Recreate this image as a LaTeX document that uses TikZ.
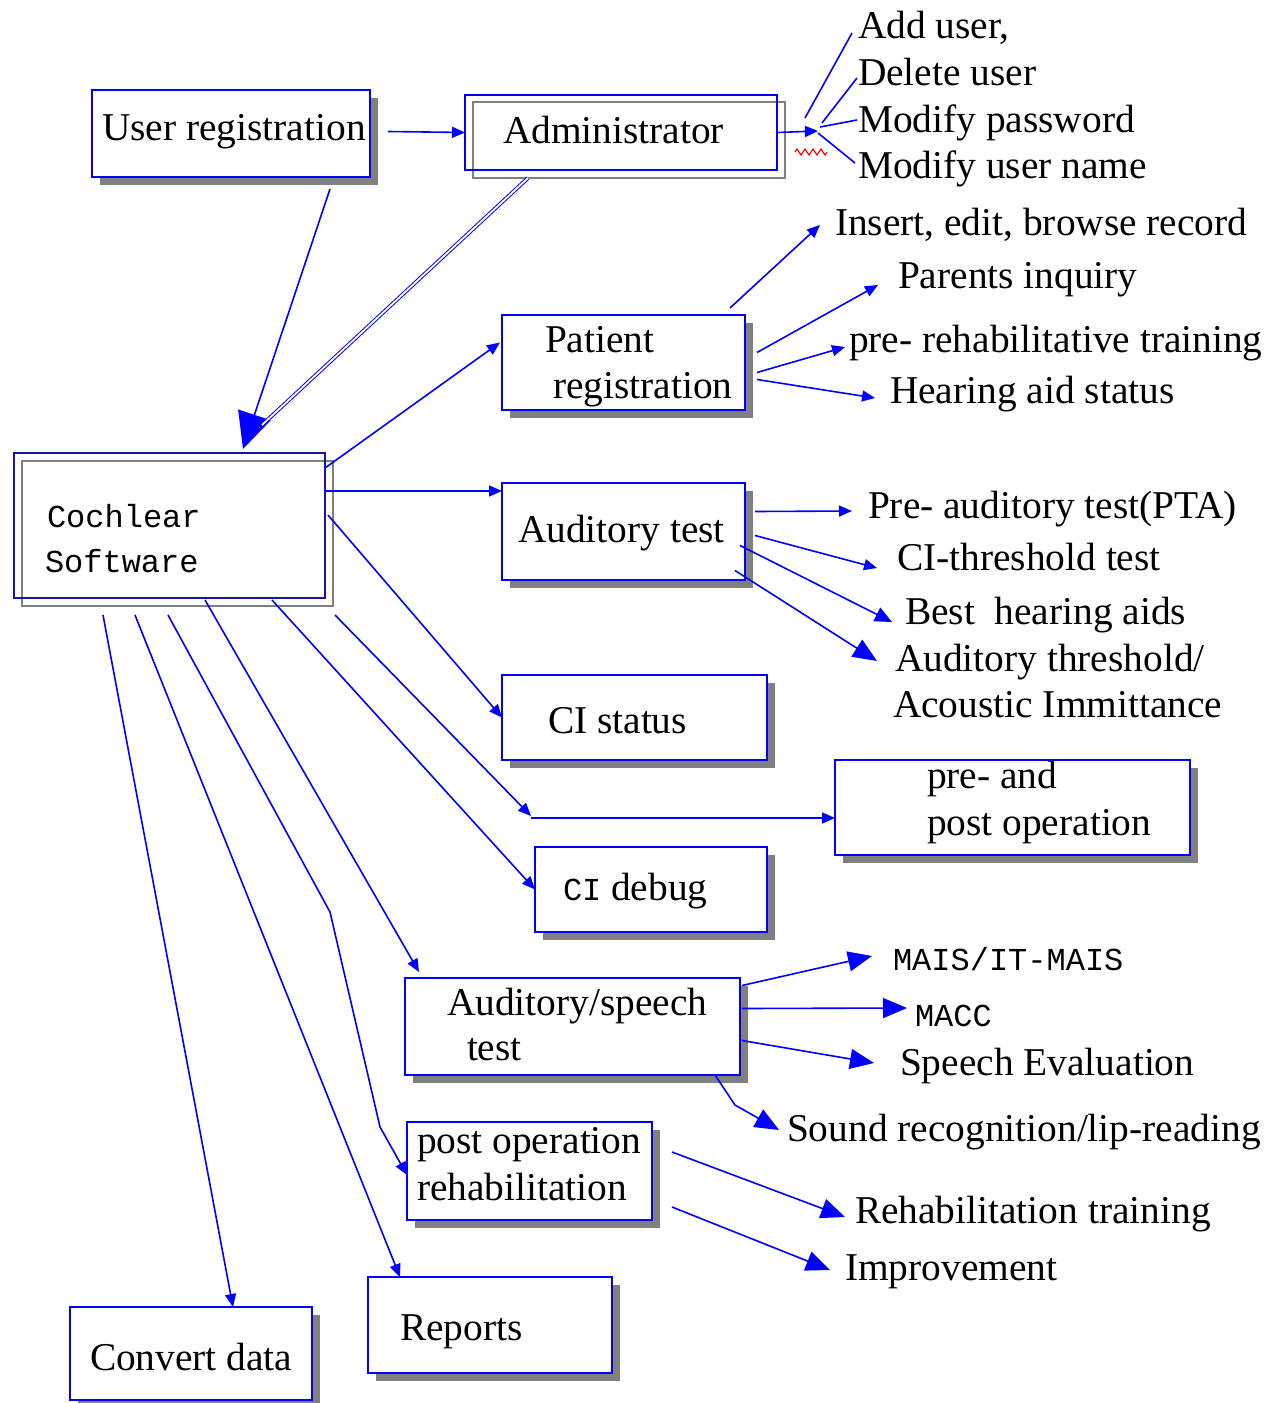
\documentclass[tikz,border=0pt]{standalone}
\usepackage{fontspec}
\setmainfont{Liberation Serif}
\setmonofont{Liberation Mono}
\usetikzlibrary{arrows.meta,shadows,decorations.pathmorphing,calc}
\definecolor{lblue}{RGB}{0,0,255}
\definecolor{navy}{RGB}{20,20,170}
\definecolor{shad}{RGB}{128,128,128}
\begin{document}
\begin{tikzpicture}[x=0.5pt,y=-0.5pt,
  every node/.style={inner sep=0pt, outer sep=0pt},
  txt/.style={anchor=base west, font=\fontsize{19.7}{24}\selectfont},
  mono/.style={anchor=base west, font=\fontsize{16}{20}\selectfont\ttfamily},
  sbox/.style={draw=lblue, line width=1.2pt, fill=white,
    drop shadow={shadow xshift=4pt, shadow yshift=-4pt, fill=shad, opacity=1}},
  dbox/.style={draw=lblue, line width=1.2pt},
  gbox/.style={draw=shad, line width=1.2pt},
  conn/.style={draw=lblue, line width=0.8pt},
  arr/.style={conn, -{Triangle[length=6.5pt,width=5.5pt]}},
  arrm/.style={conn, -{Triangle[length=8.5pt,width=7.5pt]}},
  arrl/.style={conn, -{Triangle[length=12pt,width=10pt]}},
  arrxl/.style={conn, -{Triangle[length=18pt,width=17pt]}},
]
\useasboundingbox[fill=white] (0,0) rectangle (1265,1403);

% ---------- boxes ----------
\node[sbox, minimum width=139pt, minimum height=43.5pt] (ur) at (231,133.5) {};
\node[gbox, minimum width=156pt, minimum height=38pt] (adm2) at (629,140) {};
\node[dbox, minimum width=156pt, minimum height=37.5pt] (adm) at (621,132.5) {};
\node[sbox, minimum width=121.5pt, minimum height=47.5pt] (pr) at (623.5,362.5) {};
\node[gbox, minimum width=155.5pt, minimum height=72.5pt] (cs2) at (177.5,533.5) {};
\node[draw=navy, line width=1.2pt, minimum width=155.5pt, minimum height=72.5pt] (cs) at (169.5,525.5) {};
\node[sbox, minimum width=121.5pt, minimum height=48.5pt] (at) at (623.5,531.5) {};
\node[sbox, minimum width=132.5pt, minimum height=42.5pt] (cis) at (634.5,717.5) {};
\node[sbox, minimum width=177.5pt, minimum height=47.5pt] (ppo) at (1012.5,807.5) {};
\node[sbox, minimum width=116pt, minimum height=42.5pt] (cid) at (651,889.5) {};
\node[sbox, minimum width=167.5pt, minimum height=48.5pt] (ast) at (572.5,1026.5) {};
\node[sbox, minimum width=122.5pt, minimum height=49pt] (por) at (529.5,1171) {};
\node[sbox, minimum width=122pt, minimum height=48pt] (rep) at (490,1325) {};
\node[sbox, minimum width=121pt, minimum height=46.5pt] (cvd) at (191,1353.5) {};

% ---------- box texts ----------
\node[txt] (t-ur) at (102,140) {User registration};
\node[txt] (t-adm) at (503,143) {Administrator};
\node[txt] (t-pr1) at (545,352) {Patient};
\node[txt] (t-pr2) at (553,398) {registration};
\node[mono] (t-cs1) at (47,527) {Cochlear};
\node[mono] (t-cs2) at (45,572) {Software};
\node[txt] (t-at) at (518,542) {Auditory test};
\node[txt] (t-cis) at (548,733) {CI status};
\node[txt] (t-ppo1) at (927,788) {pre- and};
\node[txt] (t-ppo2) at (927,835) {post operation};
\node[txt] (t-cid) at (563,900) {{\fontsize{16}{20}\selectfont\ttfamily CI}\ debug};
\node[txt] (t-ast1) at (447,1015) {Auditory/speech};
\node[txt] (t-ast2) at (467,1060) {test};
\node[txt] (t-por1) at (417,1153) {post operation};
\node[txt] (t-por2) at (417,1200) {rehabilitation};
\node[txt] (t-rep) at (400,1340) {Reports};
\node[txt] (t-cvd) at (90,1370) {Convert data};

% ---------- outer labels ----------
\node[txt] (l-add) at (858,38) {Add user,};
\node[txt] (l-del) at (858,85) {Delete user};
\node[txt] (l-mp) at (858,132) {Modify password};
\node[txt] (l-mu) at (858,178) {Modify user name};
\node[txt] (l-ins) at (835,235) {Insert, edit, browse record};
\node[txt] (l-par) at (898,288) {Parents inquiry};
\node[txt] (l-pre) at (849,352) {pre- rehabilitative training};
\node[txt] (l-hea) at (890,403) {Hearing aid status};
\node[txt] (l-pta) at (868,518) {Pre- auditory test(PTA)};
\node[txt] (l-cit) at (897,570) {CI-threshold test};
\node[txt] (l-bha) at (905,624) {Best~~hearing aids};
\node[txt] (l-ath) at (895,671) {Auditory threshold/};
\node[txt] (l-aci) at (893,717) {Acoustic Immittance};
\node[mono] (l-mais) at (893,970) {MAIS/IT-MAIS};
\node[mono] (l-macc) at (915,1026) {MACC};
\node[txt] (l-spe) at (900,1075) {Speech Evaluation};
\node[txt] (l-snd) at (787,1141) {Sound recognition/lip-reading};
\node[txt] (l-reh) at (855,1223) {Rehabilitation training};
\node[txt] (l-imp) at (845,1280) {Improvement};

% ---------- connectors: top ----------
\draw[arr] ($(ur.east)+(18,-2)$) -- (adm.west);
\coordinate (fan) at (818,131);
\draw[arr] (adm.east) -- (fan);
\draw[conn] (805,118) -- (852,33);
\draw[conn] (822,123) -- (857,78);
\draw[conn] (820,127) -- (857,120);
\draw[conn] (818,133) -- (855,163);
\draw[red, line width=0.6pt, decorate, decoration={zigzag, amplitude=1.5pt, segment length=4pt}] (795,152) -- (827,152);

% to Cochlear Software
\coordinate (cstop) at (243,449);
\draw[arrxl] ($(ur.south)+(99,12)$) -- (cstop);
\draw[draw=lblue, double=white, double distance=0.9pt, line width=0.5pt] ($(adm2.south west)+(55,0)$) -- (262,425);

% Patient registration
\draw[arr] ($(cs.north east)+(0,15)$) -- ($(pr.west)+(-2,-20)$);
\coordinate (p1) at (820,225);
\coordinate (p2) at (878,285);
\coordinate (p3) at (845,347);
\coordinate (p4) at (875,398);
\draw[arr] ($(pr.north east)+(-15,-7)$) -- (p1);
\draw[arr] ($(pr.east)+(12,-10)$) -- (p2);
\draw[arr] ($(pr.east)+(12,10)$) -- (p3);
\draw[arr] ($(pr.east)+(12,17)$) -- (p4);

% Auditory test
\draw[arr] (cs.east |- 0,491) -- (at.west |- 0,491);
\coordinate (a1) at (852,511);
\coordinate (a2) at (877,568);
\coordinate (a3) at (892,622);
\coordinate (a4) at (877,661);
\draw[arr] ($(at.east)+(10,-20)$) -- (a1);
\draw[arr] ($(at.east)+(10,4)$) -- (a2);
\draw[arrm] ($(at.east)+(-5,14)$) -- (a3);
\draw[arrl] ($(at.east)+(-10,39)$) -- (a4);

% CI status, pre/post, CI debug
\draw[arr] (328,515) -- (cis.west);
\coordinate (kink) at (531,816);
\draw[arr] (335,615) -- (kink);
\draw[arr] (kink) ++(0,2) -- (ppo.west |- 0,818);
\draw[arr] (272,600) -- (cid.west);

% Auditory/speech test
\draw[arr] (205,600) -- ($(ast.north west)+(14,-6)$);
\coordinate (s1) at (872,956);
\coordinate (s2) at (907,1008);
\coordinate (s3) at (874,1063);
\coordinate (s4) at (779,1130);
\draw[arrl] ($(ast.east)+(2,-41)$) -- (s1);
\draw[arrl] ($(ast.east)+(2,-18)$) -- (s2);
\draw[arrl] ($(ast.east)+(2,14)$) -- (s3);
\draw[arrl] ($(ast.south east)+(-25,0)$) -- (735,1105) -- (s4);

% post operation rehabilitation
\draw[arr] (168,615) -- (330,912) -- (380,1127) -- ($(por.west)+(0,4)$);
\coordinate (r1) at (845,1217);
\coordinate (r2) at (830,1270);
\draw[arrl] ($(por.east)+(20,-19)$) -- (r1);
\draw[arrl] ($(por.east)+(20,36)$) -- (r2);

% Reports, Convert data
\draw[arr] (135,615) -- ($(rep.north west)+(32,0)$);
\draw[arr] (103,615) -- ($(cvd.north west)+(163,0)$);
\end{tikzpicture}
\end{document}
